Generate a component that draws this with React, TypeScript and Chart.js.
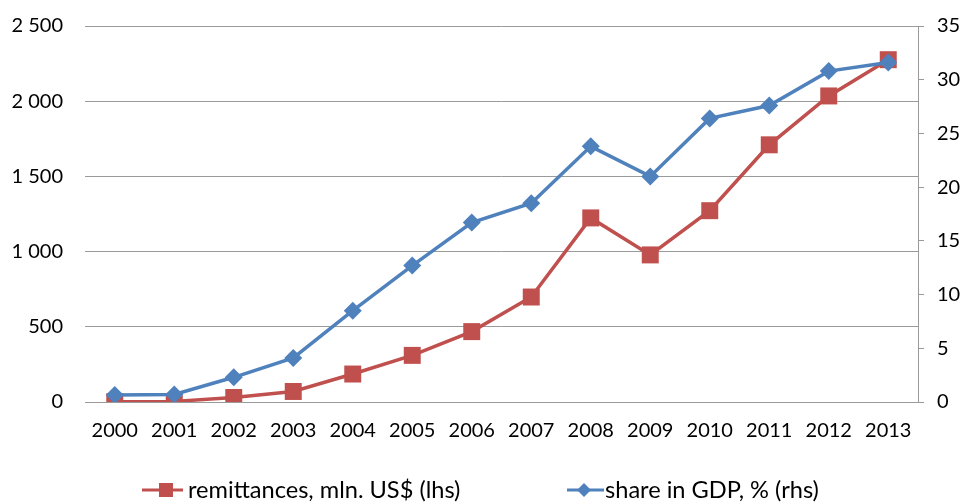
import React, { useEffect, useRef } from "react";
import { Chart, registerables } from "chart.js";

Chart.register(...registerables);

const years = ["2000", "2001", "2002", "2003", "2004", "2005", "2006", "2007", "2008", "2009", "2010", "2011", "2012", "2013"];
const remittances = [2, 4, 30, 70, 186, 310, 468, 698, 1224, 978, 1272, 1710, 2035, 2276];
const shareGDP = [0.65, 0.7, 2.3, 4.1, 8.5, 12.7, 16.7, 18.5, 23.8, 21.0, 26.4, 27.6, 30.8, 31.6];
const leftTicks = [0, 500, 1000, 1500, 2000, 2500];
const rightTicks = [0, 5, 10, 15, 20, 25, 30, 35];
const seriesLabels = ["remittances, mln. US$ (lhs)", "share in GDP, % (rhs)"];

const RED = "#C0504D";
const BLUE = "#4F81BD";
const GRID = "#9a9a9a";
const FONT = "Lato, 'Open Sans', sans-serif";
const FS = 20;
const LEGEND_FS = 23.6;

function formatThousands(v: number): string {
  const s = String(Math.round(v));
  return s.replace(/\B(?=(\d{3})+(?!\d))/g, " ");
}

export default function App() {
  const ref = useRef<HTMLCanvasElement | null>(null);

  useEffect(() => {
    if (!ref.current) return;
    const chart = new Chart(ref.current, {
      type: "line",
      data: {
        labels: years,
        datasets: [
          {
            label: seriesLabels[0],
            data: remittances,
            yAxisID: "y",
            borderColor: RED,
            backgroundColor: RED,
            borderWidth: 3.5,
            pointStyle: "rect",
            pointRadius: 12,
            pointBorderWidth: 0,
            pointBackgroundColor: RED,
            tension: 0,
            order: 1,
          },
          {
            label: seriesLabels[1],
            data: shareGDP,
            yAxisID: "y2",
            borderColor: BLUE,
            backgroundColor: BLUE,
            borderWidth: 3.5,
            pointStyle: "rectRot",
            pointRadius: 9,
            pointBorderWidth: 0,
            pointBackgroundColor: BLUE,
            tension: 0,
            order: 0,
          },
        ],
      },
      options: {
        responsive: false,
        animation: false,
        layout: { padding: { top: 26, left: 0, right: 0, bottom: 0 } },
        plugins: {
          legend: { display: false },
          tooltip: { enabled: false },
        },
        scales: {
          x: {
            offset: true,
            grid: { display: false, drawTicks: false },
            border: { display: true, color: GRID, width: 1 },
            ticks: {
              color: "#000",
              font: { family: FONT, size: FS },
              padding: 17,
              maxRotation: 0,
              autoSkip: false,
            },
            afterFit: (scale: any) => {
              scale.height = 100;
              scale.paddingLeft = 0;
              scale.paddingRight = 0;
            },
          },
          y: {
            position: "left",
            min: 0,
            max: 2500,
            afterBuildTicks: (scale: any) => {
              scale.ticks = leftTicks.map((v) => ({ value: v }));
            },
            grid: { color: GRID, lineWidth: 1, drawTicks: false },
            border: { display: false },
            ticks: {
              color: "#000",
              font: { family: FONT, size: FS },
              padding: 22,
              callback: (v: any) => formatThousands(Number(v)),
            },
            afterFit: (scale: any) => {
              scale.width = 85;
              scale.paddingTop = 0;
              scale.paddingBottom = 0;
            },
          },
          y2: {
            position: "right",
            min: 0,
            max: 35,
            afterBuildTicks: (scale: any) => {
              scale.ticks = rightTicks.map((v) => ({ value: v }));
            },
            grid: { drawOnChartArea: false, color: GRID, tickLength: 6, drawTicks: true },
            border: { display: true, color: GRID, width: 1 },
            ticks: {
              color: "#000",
              font: { family: FONT, size: FS },
              padding: 13,
            },
            afterFit: (scale: any) => {
              scale.width = 49;
              scale.paddingTop = 0;
              scale.paddingBottom = 0;
            },
          },
        },
      },
    });
    return () => chart.destroy();
  }, []);

  const textStyle: React.CSSProperties = {
    position: "absolute",
    top: 475,
    fontFamily: FONT,
    fontSize: LEGEND_FS,
    lineHeight: "28px",
    color: "#000",
    whiteSpace: "nowrap",
  };

  return (
    <div style={{ position: "absolute", left: 0, top: 0, width: 967, height: 502, background: "#fff", overflow: "hidden" }}>
      <canvas ref={ref} width={967} height={502} style={{ position: "absolute", left: 0, top: 0, width: 967, height: 502 }} />
      <svg style={{ position: "absolute", left: 142, top: 480, overflow: "visible" }} width={42} height={20}>
        <line x1={0} y1={10} x2={41} y2={10} stroke={RED} strokeWidth={3} />
        <rect x={17} y={3} width={14} height={14} fill={RED} />
      </svg>
      <span style={{ ...textStyle, left: 188 }}>{seriesLabels[0]}</span>
      <svg style={{ position: "absolute", left: 567, top: 480, overflow: "visible" }} width={38} height={20}>
        <line x1={0} y1={10} x2={37} y2={10} stroke={BLUE} strokeWidth={3} />
        <polygon points="17,3 24,10 17,17 10,10" fill={BLUE} />
      </svg>
      <span style={{ ...textStyle, left: 605 }}>{seriesLabels[1]}</span>
    </div>
  );
}
